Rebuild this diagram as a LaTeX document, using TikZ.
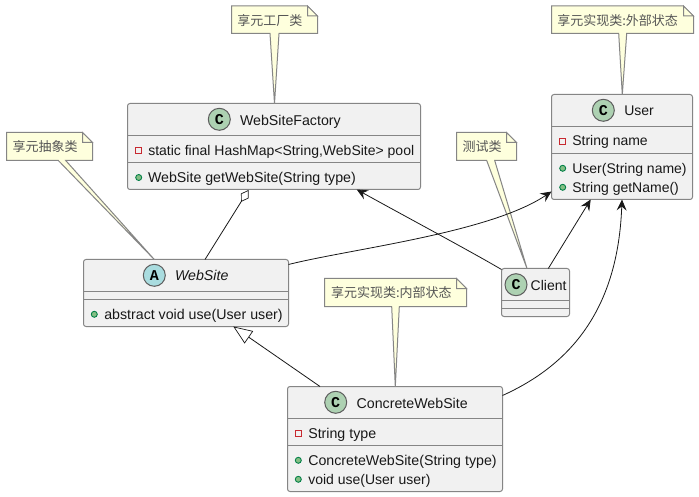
\documentclass[tikz,border=0pt]{standalone}
\usepackage{fontspec}
\setmainfont{Liberation Sans}
\newfontfamily\cjkfont{Noto Sans CJK SC}
\newfontfamily\iconfont{Liberation Mono}
\usetikzlibrary{calc,arrows.meta}
\definecolor{boxfill}{HTML}{F1F1F1}
\definecolor{linecol}{HTML}{181818}
\definecolor{edgecol}{HTML}{858585}
\definecolor{notefill}{HTML}{FEFFDD}
\definecolor{notetext}{HTML}{555555}
\definecolor{classc}{HTML}{ADD1B2}
\definecolor{classa}{HTML}{A9DCDF}
\definecolor{privcol}{HTML}{C82930}
\definecolor{pubfill}{HTML}{84BE84}
\definecolor{publine}{HTML}{038048}
\tikzset{
  x=1pt,y=-1pt,
  classbox/.style={draw=edgecol,line width=1pt,fill=boxfill,rounded corners=2.5pt,inner sep=0pt,outer sep=0pt,anchor=north west},
  divider/.style={draw=edgecol,line width=1pt},
  notearea/.style={inner sep=0pt,outer sep=0pt,anchor=north west},
  noteline/.style={draw=edgecol,line width=1pt,fill=notefill,line join=miter},
  notelabel/.style={inner sep=0pt,outer sep=0pt,anchor=base west,text=notetext,font=\cjkfont\fontsize{13}{15}\selectfont},
  member/.style={inner sep=0pt,outer sep=0pt,anchor=base west,text=linecol,font=\fontsize{14.2}{16}\selectfont},
  narrow/.style={font=\fontsize{14}{16}\selectfont},
  spot/.style={circle,draw=linecol!70!white,line width=1pt,minimum size=22pt,inner sep=0pt,outer sep=0pt,font=\iconfont\bfseries\fontsize{15}{15}\selectfont},
  privicon/.style={rectangle,draw=privcol,line width=.9pt,minimum size=6pt,inner sep=0pt},
  pubicon/.style={circle,draw=publine,fill=pubfill,line width=.9pt,minimum size=6pt,inner sep=0pt},
  link/.style={draw=linecol,line width=.8pt},
  openarrow/.style={link,-{Stealth[length=11pt,width=10pt,inset=4pt]}},
  aggr/.style={link,-{Diamond[open,fill=white,length=14pt,width=9pt,line width=.7pt]}},
  inherit/.style={link,-{Triangle[open,fill=white,length=19pt,width=15pt,line width=.7pt]}},
}
\newcommand{\notebody}[4]{%
  \path[noteline] (#1.north west) -- ($(#1.north east)+(-10,0)$) -- ($(#1.north east)+(0,10)$) -- (#1.south east)
    -- ($(#1.south west)+(#3,0)$) -- #4 -- ($(#1.south west)+(#2,0)$) -- (#1.south west) -- cycle;
  \path[noteline] ($(#1.north east)+(-10,0)$) -- ($(#1.north east)+(-10,10)$) -- ($(#1.north east)+(0,10)$) -- cycle;
}
\begin{document}
\begin{tikzpicture}
\useasboundingbox (0,0) rectangle (699,497);
\fill[white] (0,0) rectangle (699,497);

% note areas
\node[notearea,minimum width=86pt,minimum height=27.5pt] (nfactory) at (231.5,6) {};
\node[notearea,minimum width=142pt,minimum height=27.5pt] (nuser) at (551.5,6) {};
\node[notearea,minimum width=60pt,minimum height=28pt] (nclient) at (456.5,132.5) {};
\node[notearea,minimum width=86pt,minimum height=28pt] (nsite) at (6.5,132.5) {};
\node[notearea,minimum width=142pt,minimum height=28pt] (nconcrete) at (324.5,278.5) {};

% classes
\node[classbox,minimum width=293pt,minimum height=86pt] (factory) at (127.5,103.5) {};
\node[classbox,minimum width=141pt,minimum height=105pt] (user) at (551.5,94.5) {};
\node[classbox,minimum width=205pt,minimum height=67pt] (site) at (83.5,259.5) {};
\node[classbox,minimum width=215pt,minimum height=105pt] (concrete) at (287.5,386.5) {};
\node[classbox,minimum width=68pt,minimum height=48pt] (client) at (501.5,268.5) {};

% note shapes
\notebody{nfactory}{38.5}{47.5}{($(factory.north west)+(147,0)$)}
\notebody{nuser}{67.2}{75.2}{($(user.north west)+(70.8,0)$)}
\notebody{nclient}{30.2}{38.2}{($(client.north west)+(25.5,0)$)}
\notebody{nsite}{51.8}{59.2}{($(site.north west)+(70.8,0)$)}
\notebody{nconcrete}{67.2}{74.8}{($(concrete.north west)+(107.8,0)$)}

% dividers
\foreach \n/\w/\a/\b in {factory/293/32/59,user/141/32/59,site/205/31.5/39.5,concrete/215/32/59,client/68/32/40}{
  \path[divider] ($(\n.north west)+(0,\a)$) -- ($(\n.north east)+(0,\a)$);
  \path[divider] ($(\n.north west)+(0,\b)$) -- ($(\n.north east)+(0,\b)$);
}

% note texts
\node[notelabel] (tfactory) at (237.3,25.5) {享元工厂类};
\node[notelabel] (tuser) at (557.3,25.5) {享元实现类:外部状态};
\node[notelabel] (tclient) at (462.7,151.5) {测试类};
\node[notelabel] (tsite) at (12.7,151.5) {享元抽象类};
\node[notelabel] (tconcrete) at (331,297.5) {享元实现类:内部状态};

% spots
\node[spot,fill=classc] (sfactory) at (219.3,119.3) {C};
\node[spot,fill=classc] (suser) at (603.3,110.3) {C};
\node[spot,fill=classa] (ssite) at (154.3,275.3) {A};
\node[spot,fill=classc] (sconcrete) at (335.7,402.3) {C};
\node[spot,fill=classc] (sclient) at (516,284.7) {C};

% titles
\node[member] (lfactory) at (240,126) {WebSiteFactory};
\node[member,narrow] (luser) at (624.3,115.7) {User};
\node[member,font=\itshape\fontsize{14.2}{16}\selectfont] (lsite) at (175,280.7) {WebSite};
\node[member] (lconcrete) at (356.7,408) {ConcreteWebSite};
\node[member,narrow] (lclient) at (530.7,290.7) {Client};

% members
\node[privicon] (i1) at (138.7,150.7) {};
\node[member,narrow] (m1) at (148.3,156) {static final HashMap<String,WebSite> pool};
\node[pubicon] (i2) at (138.7,177.5) {};
\node[member] (m2) at (148,183) {WebSite getWebSite(String type)};
\node[privicon] (i3) at (562.7,141.3) {};
\node[member,narrow] (m3) at (572.3,146) {String name};
\node[pubicon] (i4) at (562.7,168.3) {};
\node[member,narrow] (m4) at (572.3,173.3) {User(String name)};
\node[pubicon] (i5) at (562.7,187.3) {};
\node[member,narrow] (m5) at (572.3,192.3) {String getName()};
\node[pubicon] (i6) at (94.3,314.3) {};
\node[member] (m6) at (104.3,319) {abstract void use(User user)};
\node[privicon] (i7) at (298.3,433.3) {};
\node[member] (m7) at (308.3,438.3) {String type};
\node[pubicon] (i8) at (298.3,460.3) {};
\node[member] (m8) at (308.3,465) {ConcreteWebSite(String type)};
\node[pubicon] (i9) at (298.3,479.3) {};
\node[member,narrow] (m9) at (308.3,484) {void use(User user)};

% connectors
\draw[aggr] ($(site.north west)+(121.5,0)$) -- ($(factory.south west)+(121,0.5)$);
\draw[inherit] ($(concrete.north west)+(32.5,0)$) -- ($(site.south west)+(149.8,0)$);
\draw[openarrow] (client.north west) ++(0,1) .. controls (470,251) and (410,219) .. ($(factory.south west)+(229.2,0)$);
\draw[openarrow] ($(site.north east)+(0,5)$) .. controls (350,249) and (490,233) .. ($(user.south west)+(0,-8)$);
\draw[openarrow] ($(client.north west)+(46.8,0)$) -- ($(user.south west)+(39.2,0)$);
\draw[openarrow] ($(concrete.north east)+(0,9)$) .. controls (570,365) and (618,310) .. ($(user.south west)+(70.5,0)$);
\end{tikzpicture}
\end{document}
